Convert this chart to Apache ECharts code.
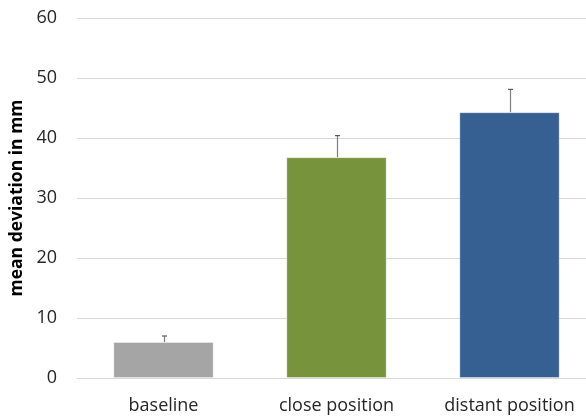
<!DOCTYPE html>
<html>
<head>
<meta charset="utf-8">
<script src="https://cdn.jsdelivr.net/npm/echarts@6/dist/echarts.min.js"></script>
<style>html,body{margin:0;padding:0;background:#fff;}#c{width:586px;height:416px;}</style>
</head>
<body>
<div id="c"></div>
<script>
const categories = ['baseline', 'close position', 'distant position'];
const means = [6.0, 36.8, 44.3];
const errorTops = [7.0, 40.4, 48.1];
const barColors = ['#A5A5A5', '#77933C', '#366092'];
const yTicks = [0, 10, 20, 30, 40, 50, 60];

const chart = echarts.init(document.getElementById('c'));
const font = "'Open Sans', sans-serif";
chart.setOption({
  animation: false,
  grid: { left: 77, width: 519, top: 18, height: 360, containLabel: false, outerBoundsMode: 'none' },
  xAxis: {
    type: 'category',
    data: categories,
    axisLine: { show: true, lineStyle: { color: '#D9D9D9', width: 1 } },
    axisTick: { show: false },
    axisLabel: { color: '#262626', fontFamily: font, fontSize: 18, margin: 19, interval: 0, hideOverlap: false }
  },
  yAxis: {
    type: 'value',
    min: yTicks[0],
    max: yTicks[yTicks.length - 1],
    interval: 10,
    name: 'mean deviation in mm',
    nameLocation: 'middle',
    nameGap: 38,
    nameRotate: 90,
    nameTextStyle: { color: '#000', fontFamily: font, fontSize: 17.5, fontWeight: 'bold' },
    axisLine: { show: false },
    axisTick: { show: false },
    axisLabel: { color: '#262626', fontFamily: font, fontSize: 18, margin: 20 },
    splitLine: { lineStyle: { color: '#D9D9D9', width: 1 } }
  },
  series: [
    {
      type: 'bar',
      barWidth: '58%',
      data: means.map((v, i) => ({ value: v, itemStyle: { color: barColors[i], borderColor: 'rgba(255,255,255,0.35)', borderWidth: 1 } }))
    },
    {
      type: 'custom',
      data: means.map((v, i) => [i, v, errorTops[i]]),
      z: 5,
      renderItem: function (params, api) {
        const base = api.coord([api.value(0), api.value(1)]);
        const top = api.coord([api.value(0), api.value(2)]);
        const x = Math.round(base[0]) + 0.5;
        return {
          type: 'group',
          children: [
            { type: 'line', shape: { x1: x, y1: base[1], x2: x, y2: top[1] }, style: { stroke: '#7F7F7F', lineWidth: 1.2 } },
            { type: 'line', shape: { x1: x - 2.5, y1: top[1], x2: x + 2.5, y2: top[1] }, style: { stroke: '#595959', lineWidth: 1.2 } }
          ]
        };
      }
    }
  ]
});
</script>
</body>
</html>
